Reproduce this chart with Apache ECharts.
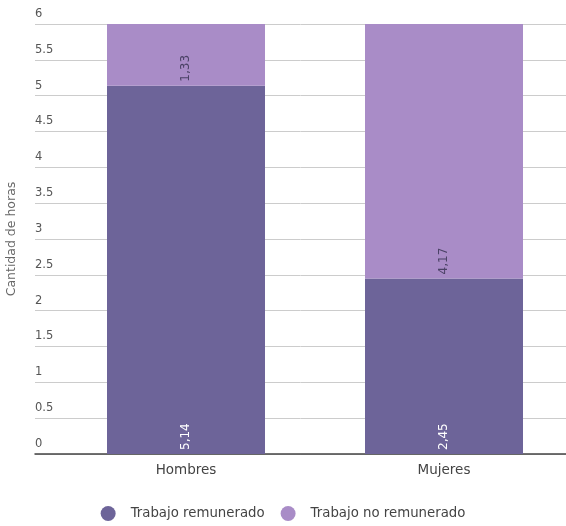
<!DOCTYPE html>
<html>
<head>
<meta charset="utf-8">
<script src="https://cdn.jsdelivr.net/npm/echarts@6/dist/echarts.min.js"></script>
<style>
  html, body { margin: 0; padding: 0; background: #fff; }
  #chart { width: 566px; height: 526px; }
</style>
</head>
<body>
<div id="chart"></div>
<script>
// Horas diarias por tipo de trabajo
const categories = ['Hombres', 'Mujeres'];
const remunerado = [5.14, 2.45];
const noRemunerado = [1.33, 4.17];
const yTicks = ['0', '0.5', '1', '1.5', '2', '2.5', '3', '3.5', '4', '4.5', '5', '5.5', '6'];

const FONT = '"DejaVu Sans", Roboto, sans-serif';
const DARK = '#6d6499';
const LIGHT = '#a98cc7';

const fmtComma = p => String(p.value).replace('.', ',');

const chart = echarts.init(document.getElementById('chart'), null, { renderer: 'canvas' });

chart.setOption({
  backgroundColor: '#ffffff',
  textStyle: { fontFamily: FONT },
  animation: false,
  grid: [
    // full-width grid: gridlines, tick labels and baseline
    { left: 35, right: 0, top: 24, bottom: 72, outerBoundsMode: 'none' },
    // bar area
    { left: 57, width: 516, top: 24, bottom: 72, outerBoundsMode: 'none' }
  ],
  xAxis: [
    {
      gridIndex: 0, type: 'value', min: 0, max: 1,
      axisLine: { show: true, onZero: false, lineStyle: { color: '#444', width: 1.5 } },
      axisTick: { show: false }, axisLabel: { show: false }, splitLine: { show: false }
    },
    {
      gridIndex: 1, type: 'category', data: categories,
      axisLine: { show: false }, axisTick: { show: false },
      axisLabel: { color: '#444', fontSize: 13.5, fontFamily: FONT, margin: 9 }
    }
  ],
  yAxis: [
    {
      gridIndex: 0, type: 'value', min: 0, max: 6, interval: 0.5,
      name: 'Cantidad de horas', nameLocation: 'middle', nameGap: 17,
      nameTextStyle: { color: '#666', fontSize: 12.5, fontFamily: FONT },
      axisLine: { show: false }, axisTick: { show: false },
      axisLabel: {
        inside: true, margin: 0, color: '#555', fontSize: 11.5, fontFamily: FONT,
        verticalAlign: 'bottom', padding: [0, 0, 4, 0],
        formatter: v => yTicks[Math.round(v * 2)]
      },
      splitLine: { show: true, lineStyle: { color: '#cccccc', width: 1 } }
    },
    {
      gridIndex: 1, type: 'value', min: 0, max: 6, interval: 0.5,
      axisLine: { show: false }, axisTick: { show: false },
      axisLabel: { show: false }, splitLine: { show: false }
    }
  ],
  legend: {
    top: 501, left: 'center', icon: 'circle', itemWidth: 15, itemHeight: 15, itemGap: 16,
    textStyle: { color: '#444', fontSize: 13.3, fontFamily: FONT, padding: [0, 0, 0, 10] },
    data: ['Trabajo remunerado', 'Trabajo no remunerado']
  },
  series: [
    {
      name: 'Trabajo remunerado', type: 'bar', stack: 'horas',
      xAxisIndex: 1, yAxisIndex: 1, data: remunerado,
      barWidth: 158, itemStyle: { color: DARK },
      label: {
        show: true, position: 'insideBottom', rotate: 90, distance: 4,
        align: 'left', verticalAlign: 'middle',
        color: '#ffffff', fontSize: 12, fontFamily: FONT, formatter: fmtComma
      }
    },
    {
      name: 'Trabajo no remunerado', type: 'bar', stack: 'horas',
      xAxisIndex: 1, yAxisIndex: 1, data: noRemunerado,
      barWidth: 158, itemStyle: { color: LIGHT },
      label: {
        show: true, position: 'insideBottom', rotate: 90, distance: 4,
        align: 'left', verticalAlign: 'middle',
        color: '#4b4266', fontSize: 12, fontFamily: FONT, formatter: fmtComma
      }
    }
  ]
});
</script>
</body>
</html>
